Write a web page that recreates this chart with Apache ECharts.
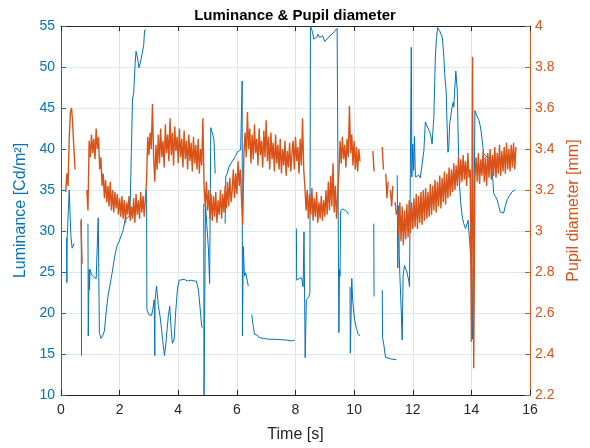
<!DOCTYPE html>
<html>
<head>
<meta charset="utf-8">
<script src="https://cdn.jsdelivr.net/npm/echarts/dist/echarts.min.js"></script>
<style>
html,body{margin:0;padding:0;background:#fff;}
#chart{width:590px;height:448px;}
</style>
</head>
<body>
<div id="chart"></div>
<script>
// ---------- data ----------
const chartTitle = 'Luminance & Pupil diameter';
const xName = 'Time [s]';
const leftName = 'Luminance [Cd/m²]';
const rightName = 'Pupil diameter [mm]';

// Luminance [Cd/m2] : [time s, value]; null = gap in the recording
const lumPoints = [
  [0.19, 29.2], [0.20, 23.7], [0.21, 29.0], [0.25, 32.5], [0.28, 35.0], [0.31, 32.0], [0.34, 29.3], [0.38, 27.9], [0.41, 27.7], [0.45, 28.5], null,
  [0.69, 31.5], [0.70, 14.8], null,
  [0.92, 30.9], [0.93, 17.2], [0.95, 22.8], [0.96, 25.3], [0.97, 22.8], [0.99, 25.3], [1.05, 24.6], [1.12, 24.4], [1.20, 24.2], [1.26, 24.3],
  [1.27, 31.6], [1.31, 17.6], [1.36, 16.9], [1.42, 17.2], [1.48, 17.8], [1.52, 18.0], [1.55, 20.4], [1.61, 22.2], [1.67, 23.4], [1.74, 24.8],
  [1.80, 26.2], [1.86, 27.4], [1.92, 28.3], [1.98, 28.7], [2.05, 29.4], [2.13, 30.2], [2.19, 31.4], [2.26, 31.6], [2.33, 31.8], [2.36, 33.0],
  [2.40, 39.6], [2.44, 46.1], [2.48, 46.8], [2.53, 50.5], [2.56, 51.9], [2.60, 51.3], [2.66, 49.9], [2.70, 50.4], [2.76, 50.5], [2.82, 52.6],
  [2.85, 54.4], [2.88, 54.6], null,
  [2.92, 35.0], [2.93, 20.4], [3.00, 19.8], [3.09, 19.7], [3.13, 20.4], [3.18, 21.6], [3.20, 14.8], [3.21, 21.6], [3.26, 23.3], [3.32, 20.9],
  [3.38, 19.6], [3.43, 18.0], [3.49, 16.0], [3.53, 14.8], [3.57, 16.0], [3.62, 18.0], [3.66, 19.6], [3.71, 20.8], [3.76, 18.0], [3.80, 16.3],
  [3.86, 16.8], [3.91, 20.0], [3.97, 22.8], [4.03, 24.0], [4.08, 23.9], [4.20, 24.1], [4.32, 23.9], [4.43, 24.0], [4.55, 23.9], [4.62, 23.9],
  [4.69, 22.8], [4.74, 20.8], [4.80, 18.4], [4.82, 18.2], null,
  [4.87, 33.3], [4.88, 10.0], [4.93, 33.3], [4.97, 31.0], [5.03, 27.8], [5.07, 23.6], [5.11, 42.6], [5.14, 42.2], [5.19, 41.6], [5.22, 41.0], [5.26, 37.0], null,
  [5.60, 30.9], [5.62, 36.6], [5.67, 37.0], [5.73, 37.8], [5.79, 38.2], [5.85, 38.4], [5.90, 38.8], [5.96, 39.2], [6.01, 39.6], [6.07, 39.8],
  [6.13, 39.9], [6.16, 40.0], [6.18, 48.3], [6.19, 17.2], [6.22, 28.1], [6.26, 24.5], [6.30, 24.9], [6.36, 24.9], [6.39, 23.3], null,
  [6.51, 19.8], [6.54, 18.8], [6.56, 18.4], [6.60, 17.4], [6.64, 17.2], [6.70, 17.3], [6.76, 17.0], [6.90, 16.9], [7.10, 16.8], [7.30, 16.8],
  [7.50, 16.75], [7.70, 16.7], [7.85, 16.6], [7.97, 16.65], null,
  [8.03, 30.3], [8.04, 24.0], [8.07, 24.0], [8.12, 24.2], [8.17, 24.0], [8.21, 24.3], [8.26, 23.2], [8.29, 29.9], [8.33, 14.55], [8.37, 21.6],
  [8.41, 21.8], [8.46, 22.0], [8.49, 22.5], [8.51, 55.0], [8.54, 54.8], [8.58, 54.3], [8.62, 53.4], [8.67, 53.2], [8.72, 53.6], [8.77, 54.0],
  [8.82, 53.6], [8.88, 53.4], [8.93, 53.8], [9.00, 53.1], [9.05, 53.2], [9.11, 53.6], [9.16, 53.4], [9.21, 53.9], [9.27, 54.1], [9.32, 54.3],
  [9.38, 54.5], [9.42, 54.7], [9.46, 54.9], [9.48, 17.6], [9.50, 25.3], [9.52, 24.5], [9.54, 32.4], [9.60, 32.7], [9.66, 32.7], [9.72, 32.5],
  [9.77, 32.3], [9.81, 32.0], null,
  [9.86, 23.2], [9.87, 15.1], [9.92, 24.2], [9.95, 21.6], [9.99, 20.0], [10.03, 18.9], [10.08, 18.1], [10.14, 17.4], [10.20, 17.2], null,
  [10.67, 30.9], [10.68, 22.0], null,
  [10.96, 22.8], [10.97, 17.0], [11.01, 16.2], [11.07, 14.6], [11.12, 14.45], [11.25, 14.4], [11.44, 14.3], null,
  [11.47, 36.8], [11.49, 25.5], [11.52, 33.1], [11.54, 27.0], [11.56, 24.6], [11.58, 22.8], [11.61, 20.0], [11.64, 16.7], [11.67, 24.5], [11.72, 25.8],
  [11.77, 25.8], [11.80, 25.0], [11.83, 24.9], [11.86, 24.0], [11.89, 23.2], [11.92, 38.0], [11.95, 52.4], [11.97, 36.6], [12.00, 40.6], [12.03, 37.4],
  [12.06, 41.5], [12.09, 36.6], [12.15, 36.5], [12.21, 36.8], [12.26, 36.5], [12.32, 36.4], [12.38, 39.8], [12.43, 43.3], [12.49, 43.5], [12.55, 42.3],
  [12.60, 41.9], [12.66, 40.6], [12.72, 43.9], [12.77, 51.1], [12.81, 53.6], [12.85, 54.8], [12.89, 55.0], [12.92, 54.4], [12.97, 54.2], [13.01, 53.6],
  [13.06, 51.3], [13.09, 49.1], [13.14, 47.1], [13.17, 43.1], [13.20, 39.6], [13.23, 40.2], [13.26, 43.1], [13.28, 43.5], [13.31, 44.3], [13.34, 45.1],
  [13.38, 45.7], [13.40, 45.1], [13.43, 47.1], [13.47, 49.5], [13.49, 49.7], [13.52, 47.1], [13.54, 43.1], [13.57, 38.3], [13.60, 35.4], [13.64, 33.3],
  [13.69, 31.7], [13.74, 30.9], [13.80, 30.3], [13.84, 30.5], [13.89, 31.3], [13.91, 30.1], [13.94, 29.0], [13.98, 26.5], [14.02, 25.5], [14.04, 16.8],
  [14.06, 16.6], [14.09, 30.0], [14.12, 44.7], [14.15, 44.7], [14.20, 43.9], [14.25, 43.6], [14.29, 43.0], [14.33, 42.2], [14.37, 41.0], [14.42, 39.4],
  [14.48, 39.4], [14.54, 39.0], [14.60, 39.1], [14.65, 38.8], [14.68, 38.2], [14.72, 36.9], [14.76, 34.6], [14.82, 34.2], [14.88, 33.8], [14.93, 33.1],
  [14.99, 32.3], [15.05, 32.1], [15.10, 32.2], [15.16, 33.1], [15.22, 33.8], [15.28, 34.2], [15.33, 34.4], [15.39, 34.8], [15.45, 35.0], [15.50, 35.0]
];

// Pupil diameter [mm]: recorded at a fixed sample step, split into runs
const pupilStep = 0.04;
const pupilRunStart = [0.16, 0.68, 0.88, 1.32, 2.04, 2.92, 4.88, 6.24, 8.32, 9.48, 10.64, 10.96, 11.08, 11.24, 11.40, 12.04];
const pupilRuns = [
  [3.19, 3.28, 3.22, 3.45, 3.58, 3.60, 3.52, 3.40, 3.30],
  [3.05, 2.84],
  [3.20, 3.10, 3.44, 3.36, 3.47, 3.38, 3.45, 3.35, 3.50, 3.40, 3.46],
  [3.30, 3.36, 3.22, 3.28, 3.16, 3.25, 3.14, 3.22, 3.12, 3.24, 3.10, 3.20, 3.09, 3.19, 3.11, 3.18, 3.08, 3.16],
  [3.07, 3.17, 3.06, 3.15, 3.04, 3.14, 3.08, 3.17, 3.05, 3.12, 3.06, 3.16, 3.04, 3.18, 3.08, 3.15, 3.06, 3.19, 3.09, 3.17, 3.07, 3.16],
  [3.25, 3.46, 3.37, 3.48, 3.40, 3.62, 3.36, 3.24, 3.42, 3.30, 3.47, 3.33, 3.50, 3.36, 3.44, 3.31, 3.52, 3.38, 3.47, 3.34,
   3.55, 3.37, 3.48, 3.32, 3.51, 3.39, 3.46, 3.33, 3.50, 3.36, 3.45, 3.31, 3.49, 3.35, 3.44, 3.30, 3.47, 3.34, 3.43, 3.29,
   3.46, 3.33, 3.42, 3.30, 3.45, 3.28, 3.40, 3.32, 3.55],
  [3.22, 3.12, 3.24, 3.10, 3.20, 3.06, 3.18, 3.05, 3.17, 3.07, 3.19, 3.04, 3.15, 3.08, 3.20, 3.06, 3.18, 3.09, 3.22, 3.11,
   3.24, 3.12, 3.26, 3.14, 3.20, 3.30, 3.16, 3.28, 3.18, 3.34, 3.22, 3.30, 3.15, 3.03],
  [3.38, 3.48, 3.36, 3.58, 3.40, 3.50, 3.33, 3.47, 3.35, 3.52, 3.38, 3.45, 3.32, 3.50, 3.37, 3.44, 3.31, 3.49, 3.36, 3.54,
   3.34, 3.46, 3.30, 3.48, 3.35, 3.43, 3.29, 3.47, 3.33, 3.42, 3.30, 3.45, 3.28, 3.40, 3.32, 3.44, 3.27, 3.39, 3.31, 3.43,
   3.29, 3.38, 3.44, 3.30, 3.46, 3.34, 3.41, 3.28, 3.45, 3.32, 3.55, 3.30],
  [3.22, 3.10, 3.20, 3.06, 3.18, 3.08, 3.21, 3.05, 3.16, 3.07, 3.19, 3.04, 3.14, 3.06, 3.17, 3.05, 3.15, 3.07, 3.20, 3.08,
   3.24, 3.10, 3.27, 3.12, 3.33, 3.09, 3.22, 3.06, 3.18],
  [3.28, 3.44, 3.33, 3.46, 3.35, 3.42, 3.31, 3.45, 3.36, 3.61, 3.38, 3.47, 3.32, 3.44, 3.30, 3.41, 3.29, 3.40, 3.34],
  [3.39, 3.29],
  [3.41, 3.30],
  [3.28, 3.16, 3.24],
  [3.20, 3.12, 3.22],
  [3.14, 3.08, 3.10, 2.98, 3.14, 2.95, 3.12, 2.93, 3.10, 2.96, 3.13, 2.97, 3.15, 2.99, 3.14, 3.01],
  [3.16, 3.02, 3.18, 3.01, 3.17, 3.04, 3.19, 3.03, 3.20, 3.05, 3.21, 3.06, 3.19, 3.07, 3.23, 3.08, 3.22, 3.10, 3.25, 3.09,
   3.24, 3.12, 3.27, 3.11, 3.26, 3.14, 3.29, 3.13, 3.28, 3.16, 3.31, 3.17, 3.30, 3.19, 3.33, 3.20, 3.32, 3.22, 3.36, 3.23,
   3.35, 3.24, 3.37, 3.25, 3.34, 3.22, 3.38, 3.26, 3.30, 2.46, 3.85, 2.33, 3.26, 3.36, 3.24, 3.38, 3.23, 3.35, 3.27, 3.39,
   3.24, 3.36, 3.22, 3.38, 3.26, 3.40, 3.25, 3.37, 3.27, 3.41, 3.26, 3.38, 3.28, 3.42, 3.27, 3.39, 3.29, 3.41, 3.28, 3.43,
   3.30, 3.40, 3.29, 3.42, 3.31, 3.43, 3.30, 3.41]
];

// ---------- build series data ----------
const lumData = lumPoints.map((p, i) => p ? p : [lumPoints[i - 1][0], null]);
const pupilData = [];
let prevEnd = null;
pupilRuns.forEach((run, r) => {
  const t0 = pupilRunStart[r];
  if (prevEnd !== null && t0 - prevEnd > pupilStep * 1.5) pupilData.push([prevEnd, null]);
  run.forEach((v, k) => pupilData.push([+(t0 + k * pupilStep).toFixed(3), v]));
  prevEnd = t0 + (run.length - 1) * pupilStep;
});

const BLUE = '#0072BD', ORANGE = '#D95319', DARK = '#262626';
const FONT = '"Liberation Sans", Arial, Helvetica, sans-serif';

const chart = echarts.init(document.getElementById('chart'), null, {renderer: 'canvas'});
chart.setOption({
  animation: false,
  backgroundColor: '#ffffff',
  textStyle: {fontFamily: FONT},
  title: {
    text: chartTitle, left: 'center', top: 3,
    textStyle: {fontSize: 15, fontWeight: 'bold', color: '#000', fontFamily: FONT}
  },
  grid: {left: 61, right: 60, top: 26, bottom: 51, containLabel: false},
  xAxis: [
    {
      type: 'value', min: 0, max: 16, interval: 2, position: 'bottom',
      name: xName, nameLocation: 'middle', nameGap: 32,
      nameTextStyle: {color: DARK, fontSize: 16, fontFamily: FONT},
      axisLine: {show: true, onZero: false, lineStyle: {color: DARK, width: 1}},
      axisTick: {show: true, inside: true, length: 5, lineStyle: {color: DARK}},
      axisLabel: {color: DARK, fontSize: 14, margin: 8, fontFamily: FONT},
      splitLine: {show: true, lineStyle: {color: '#e3e3e3', width: 1}}
    },
    {
      type: 'value', min: 0, max: 16, interval: 2, position: 'top',
      axisLine: {show: true, onZero: false, lineStyle: {color: DARK, width: 1}},
      axisTick: {show: true, inside: true, length: 5, lineStyle: {color: DARK}},
      axisLabel: {show: false}, splitLine: {show: false}
    }
  ],
  yAxis: [
    {
      type: 'value', min: 10, max: 55, interval: 5, position: 'left',
      name: leftName, nameLocation: 'middle', nameGap: 31,
      nameTextStyle: {color: BLUE, fontSize: 16, fontFamily: FONT},
      axisLine: {show: true, onZero: false, lineStyle: {color: BLUE, width: 1}},
      axisTick: {show: true, inside: true, length: 5, lineStyle: {color: BLUE}},
      axisLabel: {color: BLUE, fontSize: 14, margin: 6, fontFamily: FONT},
      splitLine: {show: true, lineStyle: {color: '#dae9f4', width: 1}}
    },
    {
      type: 'value', min: 2.2, max: 4, interval: 0.2, position: 'right',
      name: rightName, nameLocation: 'middle', nameGap: 36, nameRotate: 90,
      nameTextStyle: {color: ORANGE, fontSize: 16, fontFamily: FONT},
      axisLine: {show: true, onZero: false, lineStyle: {color: ORANGE, width: 1}},
      axisTick: {show: true, inside: true, length: 5, lineStyle: {color: ORANGE}},
      axisLabel: {color: ORANGE, fontSize: 14, margin: 5, fontFamily: FONT,
        formatter: v => String(+(+v).toFixed(1))},
      splitLine: {show: false}
    }
  ],
  series: [
    {
      type: 'line', name: 'Luminance', xAxisIndex: 0, yAxisIndex: 0,
      data: lumData, showSymbol: false, symbol: 'none', connectNulls: false,
      lineStyle: {color: BLUE, width: 1}, itemStyle: {color: BLUE}, z: 2
    },
    {
      type: 'line', name: 'Pupil', xAxisIndex: 0, yAxisIndex: 1,
      data: pupilData, showSymbol: false, symbol: 'none', connectNulls: false,
      lineStyle: {color: ORANGE, width: 1.4}, itemStyle: {color: ORANGE}, z: 3
    }
  ]
});
</script>
</body>
</html>
